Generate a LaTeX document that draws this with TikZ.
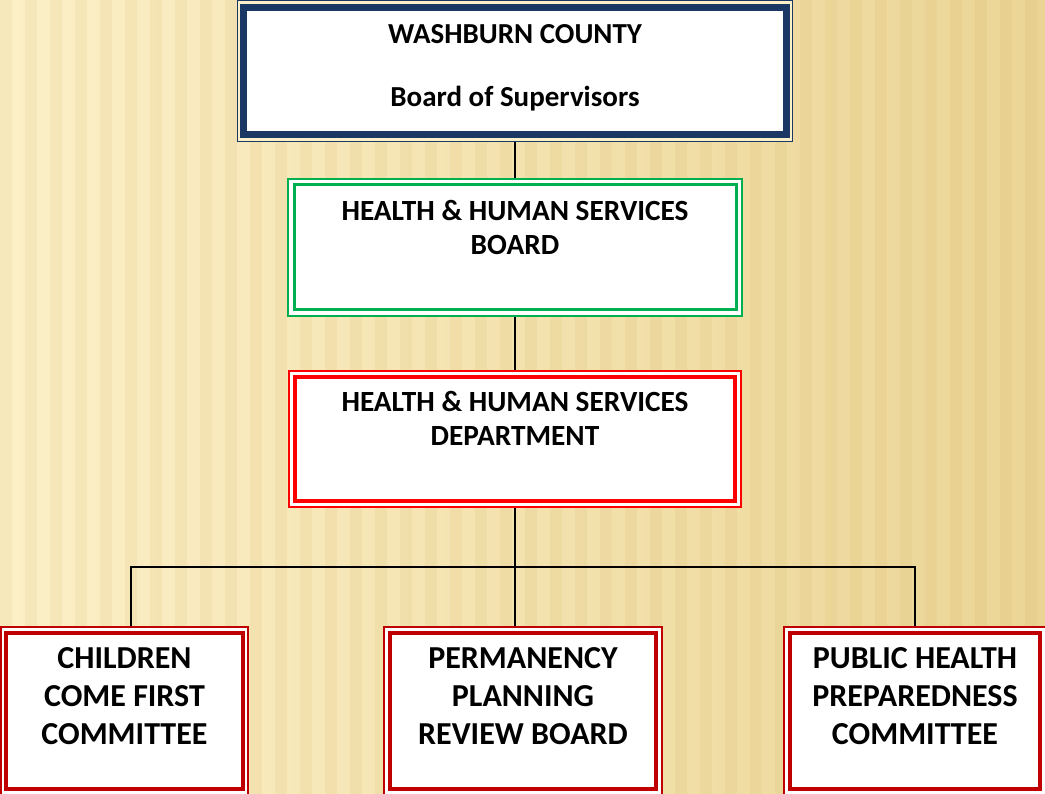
\documentclass[tikz,border=0pt]{standalone}
\usepackage{fontspec}
\setmainfont{Carlito}
\usetikzlibrary{positioning}

\definecolor{navyline}{HTML}{1B3763}
\definecolor{boardgreen}{HTML}{00B050}
\definecolor{deptred}{HTML}{FF0000}
\definecolor{cmtred}{HTML}{C00000}
\definecolor{bglight}{HTML}{FCF0C8}
\definecolor{bgdark}{HTML}{EBD596}
\definecolor{stripe}{HTML}{C9A24A}

\tikzset{
  frame/.style={rectangle, inner sep=0pt, fill=white},
  boxtext/.style={inner sep=0pt, align=center, font=\bfseries\fontsize{29.3}{34}\selectfont},
  cmttext/.style={inner sep=0pt, align=center, font=\bfseries\fontsize{32}{38}\selectfont},
  link/.style={draw=black, line width=1.6pt}
}

\begin{document}
\begin{tikzpicture}[x=1pt,y=-1pt]
  % background
  \useasboundingbox (0,0) rectangle (1045,794);
  \shade[left color=bglight, right color=bgdark] (0,0) rectangle (1045,794);
  \foreach \x in {0,25,...,1045}
    \fill[stripe, fill opacity=0.10] (\x,0) rectangle ++(12,794);

  % county board
  \node[frame, draw=navyline, line width=1.5pt, fill=bglight,
        minimum width=555pt, minimum height=141pt] (county) at (515,71) {};
  \node[frame, draw=navyline, line width=7pt,
        minimum width=543pt, minimum height=127pt] (county-in) at (515,71) {};
  \node[boxtext, font=\bfseries\fontsize{29}{31.5}\selectfont, below=20.5pt of county-in.north]
    (county-txt) {WASHBURN COUNTY\\[31.5pt]Board of Supervisors};

  % hhs board
  \node[frame, draw=boardgreen, line width=2pt,
        minimum width=454pt, minimum height=137pt] (board) at (515,247.5) {};
  \node[frame, draw=boardgreen, line width=3pt,
        minimum width=442pt, minimum height=125pt] (board-in) at (515,247.5) {};
  \node[boxtext, below=16.5pt of board-in.north] (board-txt) {HEALTH \& HUMAN SERVICES\\BOARD};

  % hhs department
  \node[frame, draw=deptred, line width=2.5pt,
        minimum width=452pt, minimum height=136pt] (dept) at (515,439) {};
  \node[frame, draw=deptred, line width=3.5pt,
        minimum width=440pt, minimum height=124pt] (dept-in) at (515,439) {};
  \node[boxtext, below=15.5pt of dept-in.north] (dept-txt) {HEALTH \& HUMAN SERVICES\\DEPARTMENT};

  % committees
  \node[frame, draw=cmtred, line width=2.5pt,
        minimum width=247pt, minimum height=168pt] (cfc) at (124.5,711) {};
  \node[frame, draw=cmtred, line width=3.5pt,
        minimum width=237pt, minimum height=156pt] (cfc-in) at (124.5,711) {};
  \node[cmttext, below=16.5pt of cfc-in.north] (cfc-txt) {CHILDREN\\COME FIRST\\COMMITTEE};

  \node[frame, draw=cmtred, line width=2.5pt,
        minimum width=278pt, minimum height=168pt] (ppr) at (523,711) {};
  \node[frame, draw=cmtred, line width=3.5pt,
        minimum width=266pt, minimum height=156pt] (ppr-in) at (523,711) {};
  \node[cmttext, below=16.5pt of ppr-in.north] (ppr-txt) {PERMANENCY\\PLANNING\\REVIEW BOARD};

  \node[frame, draw=cmtred, line width=2.5pt,
        minimum width=262pt, minimum height=168pt] (phc) at (915,711) {};
  \node[frame, draw=cmtred, line width=3.5pt,
        minimum width=250pt, minimum height=156pt] (phc-in) at (915,711) {};
  \node[cmttext, below=16.5pt of phc-in.north] (phc-txt) {PUBLIC HEALTH\\PREPAREDNESS\\COMMITTEE};

  % connectors
  \coordinate (split) at (515,567);
  \coordinate (lefttee) at (131,567);
  \draw[link] (county.south) -- (board.north);
  \draw[link] (board.south) -- (dept.north);
  \draw[link] (dept.south) -- (split);
  \draw[link] (cfc.north -| lefttee) |- (split) -| (phc.north);
  \draw[link] (split) -- (split |- ppr.north);
\end{tikzpicture}
\end{document}
